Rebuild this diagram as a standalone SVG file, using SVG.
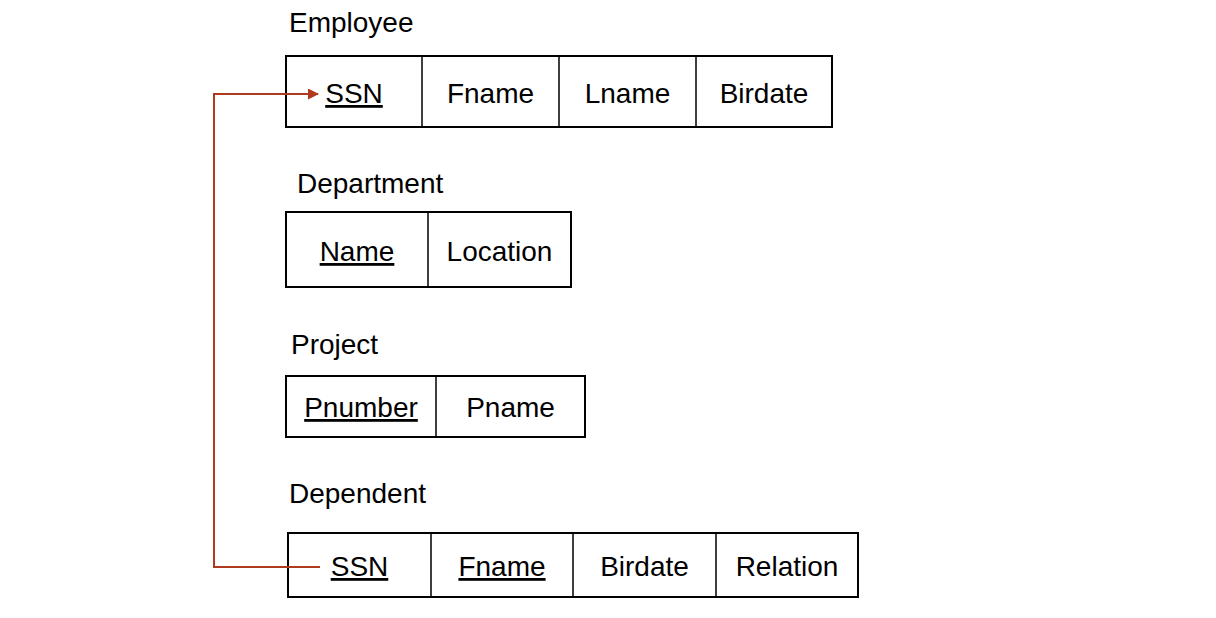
<svg xmlns="http://www.w3.org/2000/svg" width="1216" height="618" viewBox="0 0 1216 618">
<style>
text{font-family:"Liberation Sans",Arial,sans-serif;font-size:28px;fill:#000}
.c{text-anchor:middle}
.u{text-decoration:underline}
.box{fill:#fff;stroke:#000;stroke-width:2}
.div{stroke:#000;stroke-width:1.5}
.conn{fill:none;stroke:#b03a1e;stroke-width:2}
</style>
<defs>
<marker id="ah" markerWidth="11" markerHeight="11" refX="10" refY="5.5" orient="auto" markerUnits="userSpaceOnUse">
<path d="M0,0 L11,5.5 L0,11 z" fill="#b03a1e"/>
</marker>
</defs>
<rect width="1216" height="618" fill="#fff"/>
<g id="employee">
<text x="289" y="32">Employee</text>
<rect class="box" x="286" y="56" width="546" height="71"/>
<line class="div" x1="422" y1="56" x2="422" y2="127"/>
<line class="div" x1="559" y1="56" x2="559" y2="127"/>
<line class="div" x1="696" y1="56" x2="696" y2="127"/>
<text class="c u" x="354" y="103">SSN</text>
<text class="c" x="490.5" y="103">Fname</text>
<text class="c" x="627.5" y="103">Lname</text>
<text class="c" x="764" y="103">Birdate</text>
</g>
<g id="department">
<text x="297" y="193">Department</text>
<rect class="box" x="286" y="212" width="285" height="75"/>
<line class="div" x1="428" y1="212" x2="428" y2="287"/>
<text class="c u" x="357" y="261">Name</text>
<text class="c" x="499.5" y="261">Location</text>
</g>
<g id="project">
<text x="291" y="354">Project</text>
<rect class="box" x="286" y="376" width="299" height="61"/>
<line class="div" x1="436" y1="376" x2="436" y2="437"/>
<text class="c u" x="361" y="417">Pnumber</text>
<text class="c" x="510.5" y="417">Pname</text>
</g>
<g id="dependent">
<text x="289" y="503">Dependent</text>
<rect class="box" x="288" y="533" width="570" height="64"/>
<line class="div" x1="431" y1="533" x2="431" y2="597"/>
<line class="div" x1="573" y1="533" x2="573" y2="597"/>
<line class="div" x1="716" y1="533" x2="716" y2="597"/>
<text class="c u" x="359.5" y="576">SSN</text>
<text class="c u" x="502" y="576">Fname</text>
<text class="c" x="644.5" y="576">Birdate</text>
<text class="c" x="787" y="576">Relation</text>
</g>
<g id="connectors">
<polyline class="conn" points="320,567 214,567 214,94 318,94" marker-end="url(#ah)"/>
</g>
</svg>
